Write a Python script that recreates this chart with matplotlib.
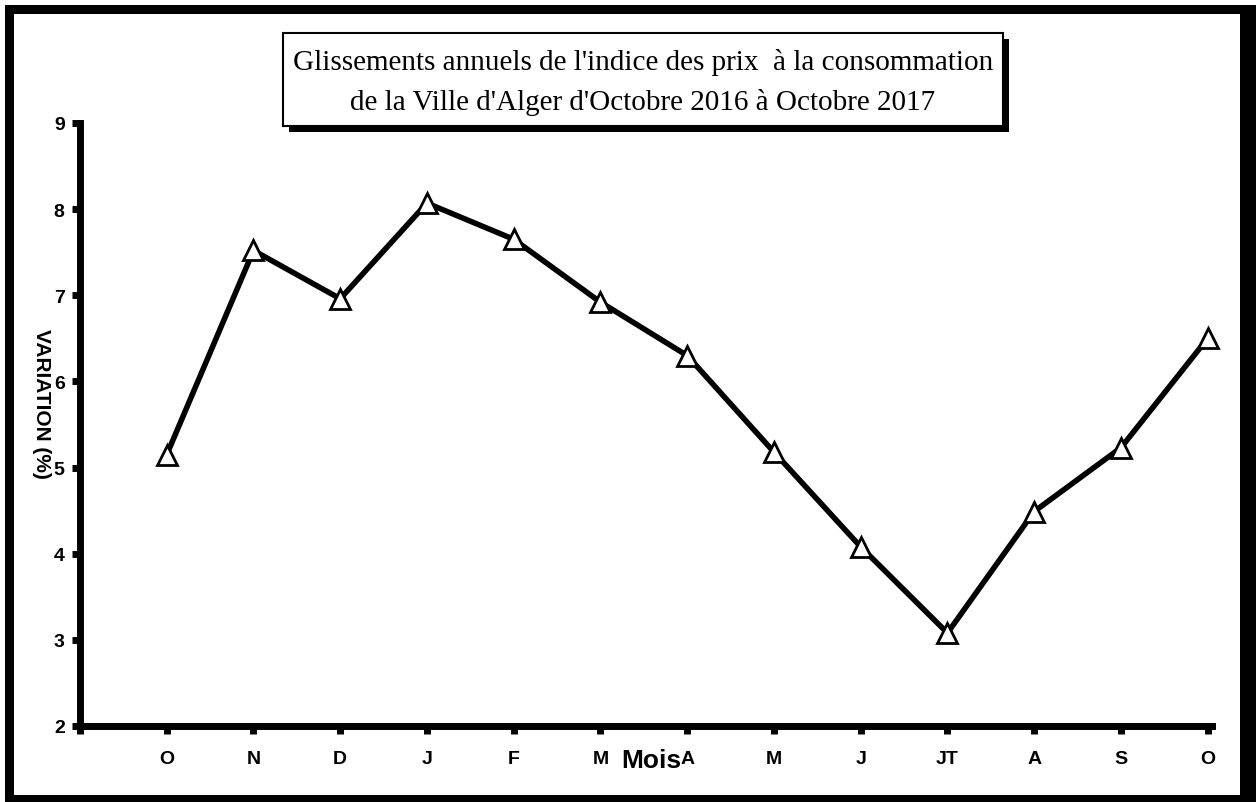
import matplotlib
matplotlib.use("Agg")
import matplotlib.pyplot as plt
from matplotlib.patches import Rectangle

# données : glissement annuel (%) d'octobre 2016 à octobre 2017
mois = ["O", "N", "D", "J", "F", "M", "A", "M", "J", "JT", "A", "S", "O"]
variation = [5.15, 7.52, 6.96, 8.07, 7.65, 6.92, 6.30, 5.18, 4.08, 3.08, 4.49, 5.23, 6.50]
yticks = [2, 3, 4, 5, 6, 7, 8, 9]

titre1 = "Glissements annuels de l'indice des prix  à la consommation"
titre2 = "de la Ville d'Alger d'Octobre 2016 à Octobre 2017"

plt.rcParams["font.family"] = ["Liberation Sans", "DejaVu Sans"]

W, H = 1256, 803
fig = plt.figure(figsize=(W / 100, H / 100), dpi=100)
ax = fig.add_axes([80 / W, 1 - 727 / H, 1132 / W, 603 / H])

x = list(range(1, len(mois) + 1))
ax.plot(x, variation, color="black", lw=4, marker="^", ms=14,
        mfc="white", mec="black", mew=2, zorder=3, clip_on=False)

ax.set_xlim(0, 13.05)
ax.set_ylim(2, 9)
ax.set_xticks([0] + x)
ax.set_xticklabels([""] + mois)
ax.set_yticks(yticks)
ax.set_yticklabels([str(v) for v in yticks])

for s in ["top", "right"]:
    ax.spines[s].set_visible(False)
for s in ["left", "bottom"]:
    ax.spines[s].set_linewidth(5)
    ax.spines[s].set_capstyle("projecting")

ax.tick_params(axis="x", direction="out", length=6, width=5, pad=11,
               labelsize=14)
ax.tick_params(axis="y", direction="out", length=6, width=5, pad=5,
               labelsize=14)
for lab in ax.get_xticklabels() + ax.get_yticklabels():
    lab.set_fontweight("bold")

ax.set_xlabel("Mois", fontsize=19, fontweight="bold")
ax.xaxis.set_label_coords(0.505, -0.036)
ax.set_ylabel("VARIATION (%)", fontsize=15, fontweight="bold",
              rotation=-90, va="center", ha="center")
ax.yaxis.set_label_coords(-0.034, 0.536)

# cadre du titre avec ombre
bx, by, bw, bh = 283, 34, 720, 93
fig.patches.append(Rectangle(((bx + 6) / W, 1 - (by + bh + 6) / H), bw / W, bh / H,
                             transform=fig.transFigure, facecolor="black",
                             edgecolor="none", zorder=1))
fig.patches.append(Rectangle((bx / W, 1 - (by + bh) / H), bw / W, bh / H,
                             transform=fig.transFigure, facecolor="white",
                             edgecolor="black", lw=1.5, zorder=2))
for ligne, yc in [(titre1, 62), (titre2, 103)]:
    fig.text((bx + bw / 2) / W, 1 - yc / H, ligne, ha="center", va="center",
             family="Liberation Serif", fontsize=21, zorder=3)

# cadre extérieur
for (x0, y0, w, h) in [(5, 6, 1251, 9), (5, 6, 9, 797), (1240, 6, 16, 797), (5, 796, 1251, 7)]:
    fig.patches.append(Rectangle((x0 / W, 1 - (y0 + h) / H), w / W, h / H,
                                 transform=fig.transFigure, facecolor="black",
                                 edgecolor="none"))

fig.savefig("out.png", dpi=100)
